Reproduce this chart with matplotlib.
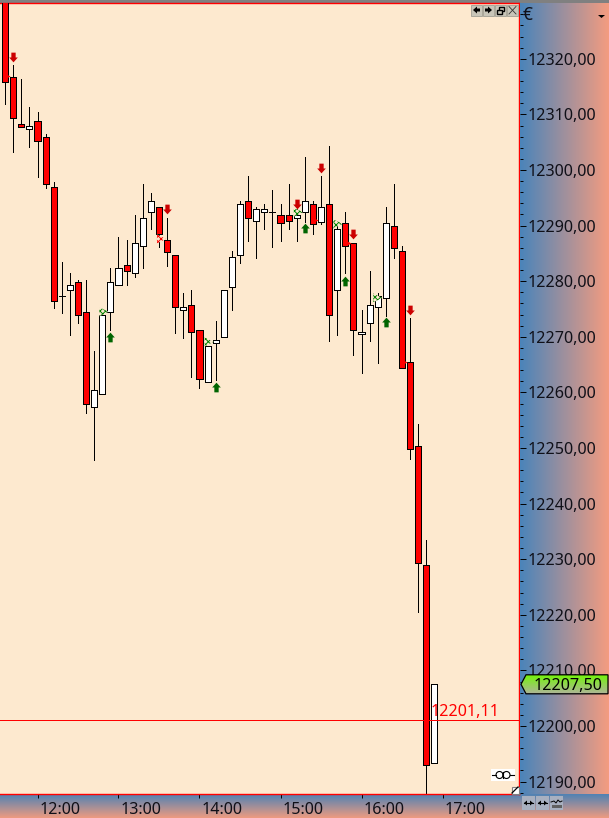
#!/usr/bin/env python3
"""Intraday candlestick chart, 6 minute bars, with the platform chrome around it."""

import numpy as np
import matplotlib

matplotlib.use("Agg")
import matplotlib.pyplot as plt
from matplotlib.patches import Circle, Polygon, Rectangle
from matplotlib.path import Path

# bars, oldest first
opens = [12332.0, 12316.8, 12308.3, 12307.3, 12308.8, 12305.9, 12296.9, 12277.3, 12278.4,
         12279.8, 12274.4, 12257.3, 12259.8, 12274.4, 12279.4, 12282.9, 12281.4, 12286.3,
         12292.4, 12293.3, 12287.4, 12284.8, 12274.9, 12275.8, 12271.3, 12261.8, 12268.8,
         12269.9, 12278.9, 12284.8, 12294.4, 12290.8, 12292.4, 12292.4, 12291.9, 12291.9,
         12291.3, 12292.4, 12293.8, 12290.7, 12293.8, 12278.4, 12290.4, 12286.8, 12270.5,
         12272.4, 12275.3, 12276.9, 12289.9, 12285.4, 12265.4, 12250.3, 12228.9, 12193.4]
closes = [12315.8, 12309.3, 12307.8, 12307.9, 12305.3, 12297.4, 12276.4, 12277.3, 12279.4,
          12273.9, 12257.9, 12260.4, 12273.9, 12279.8, 12282.3, 12281.8, 12286.8, 12291.3,
          12294.4, 12288.4, 12285.3, 12275.3, 12275.3, 12270.8, 12262.4, 12268.3, 12269.4,
          12278.4, 12284.3, 12293.8, 12291.3, 12292.9, 12292.9, 12292.4, 12290.4, 12290.8,
          12291.9, 12294.4, 12290.3, 12293.3, 12273.9, 12289.3, 12286.3, 12271.3, 12270.8,
          12275.8, 12277.3, 12290.4, 12285.9, 12264.3, 12249.9, 12229.4, 12192.9, 12207.5]
highs = [12334.0, 12318.9, 12316.4, 12311.3, 12310.4, 12306.4, 12297.8, 12283.4, 12281.4,
         12280.3, 12280.3, 12267.4, 12273.9, 12282.4, 12287.9, 12287.4, 12291.9, 12297.5,
         12295.9, 12293.3, 12291.4, 12284.8, 12277.8, 12278.4, 12271.3, 12268.3, 12272.8,
         12278.4, 12285.4, 12294.4, 12298.9, 12293.3, 12293.8, 12296.4, 12293.8, 12297.4,
         12292.9, 12302.3, 12294.4, 12298.9, 12304.3, 12290.5, 12292.4, 12286.8, 12274.9,
         12281.8, 12277.8, 12293.3, 12297.4, 12286.3, 12273.3, 12254.4, 12233.4, 12207.5]
lows = [12311.8, 12303.3, 12307.8, 12304.2, 12298.8, 12296.8, 12275.2, 12274.3, 12270.4,
        12272.4, 12256.3, 12247.9, 12259.8, 12271.2, 12279.4, 12279.4, 12280.8, 12282.3,
        12289.3, 12286.2, 12282.8, 12270.7, 12269.8, 12262.8, 12260.8, 12261.8, 12262.2,
        12269.9, 12274.9, 12283.3, 12287.3, 12284.2, 12289.3, 12286.2, 12287.3, 12289.3,
        12287.3, 12290.6, 12288.4, 12290.3, 12269.3, 12270.4, 12281.4, 12266.8, 12263.4,
        12269.3, 12265.3, 12273.8, 12284.2, 12264.3, 12248.0, 12220.5, 12187.0, 12193.4]

# signals: bar index and price
down_arrow_bars = [1, 20, 36, 39, 43, 50]
down_arrow_prices = [12320.3, 12292.9, 12293.8, 12300.3, 12288.4, 12274.9]
up_arrow_bars = [13, 26, 37, 42, 47]
up_arrow_prices = [12270.0, 12261.0, 12289.5, 12280.0, 12272.6]
green_flag_bars = [12.2, 25.2, 36.2, 41.1, 46.0]
green_flag_prices = [12274.5, 12269.1, 12292.4, 12290.3, 12277.0]
red_flag_bars = [19.3]
red_flag_prices = [12287.6]
red_nub_bars = [0.4, 35.0, 38.4, 42.4, 49.4]
red_nub_prices = [12316.9, 12291.5, 12291.0, 12286.9, 12265.4]

hour_bars = [4, 14, 24, 34, 44, 54]
hour_labels = ["12:00", "13:00", "14:00", "15:00", "16:00", "17:00"]
price_ticks = list(range(12190, 12330, 10))
price_minor_ticks = list(range(12188, 12330, 2))
line_price = 12201.11
last_price = 12207.50

BG = "#fde9cf"
W, H = 609, 818
PANE_RIGHT, PANE_TOP, PANE_BOTTOM = 519, 3, 794
ONE_PX = 0.7  # just under a pixel, so aliased lines stay one pixel wide
LABEL_SIZE = 11.6


def price_to_px(price):
    return 726 - (price - 12200) * 5.56


def px_to_price(y):
    return 12200 + (726 - y) / 5.56


def px_to_bar(x):
    return (x - 5.1) / 8.1


def gradient(ax, extent, start, end, horizontal=True, **kw):
    steps = np.linspace(0, 1, 128)[:, None]
    rgb = np.array(matplotlib.colors.to_rgb(start)) * (1 - steps) + np.array(matplotlib.colors.to_rgb(end)) * steps
    img = rgb[None, :, :] if horizontal else rgb[:, None, :]
    return ax.imshow(img, extent=extent, aspect="auto", interpolation="bilinear", **kw)


plt.rcParams["font.family"] = ["Noto Sans", "DejaVu Sans"]
plt.rcParams["hatch.linewidth"] = 0.7

fig = plt.figure(figsize=(W / 100, H / 100), dpi=100, facecolor="#808080")

# price pane
ax = fig.add_axes([0, (H - PANE_BOTTOM) / H, PANE_RIGHT / W, (PANE_BOTTOM - PANE_TOP) / H], facecolor=BG)
ax.set_xlim(px_to_bar(0), px_to_bar(PANE_RIGHT))
ax.set_ylim(px_to_price(PANE_BOTTOM), px_to_price(PANE_TOP))

bars = np.arange(len(opens))
is_up = np.array(closes) >= np.array(opens)
ax.vlines(bars, lows, highs, color="black", linewidth=ONE_PX, zorder=2, antialiased=False)
ax.bar(bars, np.abs(np.array(closes) - np.array(opens)), bottom=np.minimum(opens, closes), width=0.76,
       color=["white" if up else "#ff0000" for up in is_up], edgecolor="black", linewidth=ONE_PX,
       zorder=3, antialiased=False)

down_arrow = Path([(-2, 4.5), (2, 4.5), (2, 0), (4, 0), (0, -4.5), (-4, 0), (-2, 0), (-2, 4.5)], closed=True)
up_arrow = Path([(-2, -4.5), (2, -4.5), (2, 0), (4, 0), (0, 4.5), (-4, 0), (-2, 0), (-2, -4.5)], closed=True)
ax.plot(down_arrow_bars, down_arrow_prices, ls="none", marker=down_arrow, ms=7, mfc="#cc0000", mew=0, zorder=5)
ax.plot(up_arrow_bars, up_arrow_prices, ls="none", marker=up_arrow, ms=7, mfc="#006400", mew=0, zorder=5)
ax.scatter(green_flag_bars, green_flag_prices, marker=">", s=42, facecolor=BG, edgecolor="#008000",
           hatch="xxxxxx", linewidth=0, zorder=4)
ax.scatter(red_flag_bars, red_flag_prices, marker=">", s=42, facecolor=BG, edgecolor="#ff0000",
           hatch="xxxxxx", linewidth=0, zorder=4)
ax.scatter(red_nub_bars, red_nub_prices, marker=">", s=9, color="#ff0000", linewidth=0, zorder=4)

ax.axhline(line_price, color="#ff0000", linewidth=ONE_PX, zorder=6, antialiased=False)

for side in ("top", "right", "bottom"):
    ax.spines[side].set_color("#ff0000")
    ax.spines[side].set_linewidth(1.0)
ax.spines["left"].set_visible(False)
ax.set_yticks([])
ax.set_xticks(hour_bars)
ax.set_xticklabels(hour_labels, ha="left", fontsize=LABEL_SIZE, color="#101018")
ax.tick_params(axis="x", length=3, width=ONE_PX, color="black", pad=0)
label_shift = matplotlib.transforms.ScaledTranslation(1.2 / 72, -3.0 / 72, fig.dpi_scale_trans)
for label in ax.get_xticklabels():
    label.set_transform(label.get_transform() + label_shift)

# time strip along the bottom
ax_time = fig.add_axes([0, 0, 1, (H - PANE_BOTTOM) / H], zorder=-1)
ax_time.axis("off")
gradient(ax_time, (0, 1, 0, 1), "#4f82b4", "#ee9b80", horizontal=False)

# price scale on the right
ax_scale = fig.add_axes([(PANE_RIGHT + 1) / W, (H - PANE_BOTTOM) / H, (W - PANE_RIGHT - 1) / W,
                         (PANE_BOTTOM - PANE_TOP) / H])
gradient(ax_scale, (0, 1, px_to_price(PANE_BOTTOM), px_to_price(PANE_TOP)), "#4a84ba", "#f49c80")
ax_scale.set_xlim(0, 1)
ax_scale.set_ylim(px_to_price(PANE_BOTTOM), px_to_price(PANE_TOP))
for side in ax_scale.spines.values():
    side.set_visible(False)
ax_scale.set_xticks([])
ax_scale.set_yticks(price_ticks)
ax_scale.set_yticklabels([f"{p},00" for p in price_ticks], fontsize=LABEL_SIZE, color="#101018")
ax_scale.set_yticks(price_minor_ticks, minor=True)
ax_scale.tick_params(axis="y", which="major", direction="in", length=4, width=ONE_PX, color="black",
                     left=True, right=False, labelleft=False, labelright=True, pad=-59)
ax_scale.tick_params(axis="y", which="minor", direction="in", length=2.2, width=ONE_PX, color="black",
                     left=True, right=False)

# chrome drawn in pixels on top of everything
over = fig.add_axes([0, 0, 1, 1], zorder=10, facecolor="none")
over.set_xlim(0, W)
over.set_ylim(H, 0)
over.axis("off")

over.add_patch(Rectangle((520, 0), 89, 3, color="#808080", lw=0))
over.text(431, price_to_px(line_price) + 0.5, f"{line_price:.2f}".replace(".", ","), color="#ff0000",
          fontsize=LABEL_SIZE, ha="left", va="bottom")

# last price tag
tag_y = price_to_px(last_price)
tag = Polygon([(521, tag_y), (526, tag_y - 9.5), (608, tag_y - 9.5), (608, tag_y + 9.5), (526, tag_y + 9.5)],
              closed=True, facecolor="none", edgecolor="black", linewidth=0.9, zorder=3)
over.add_patch(tag)
tag_img = gradient(over, (521, 608, tag_y + 9.5, tag_y - 9.5), "#74f40c", "#b0b49a", horizontal=False, zorder=2)
tag_img.set_clip_path(tag)
over.set_xlim(0, W)
over.set_ylim(H, 0)
over.text(567.5, tag_y, f"{last_price:.2f}".replace(".", ","), color="black", fontsize=LABEL_SIZE, ha="center",
          va="center_baseline", zorder=4)

# window buttons
for x0 in (471, 483, 495, 507):
    over.add_patch(Rectangle((x0, 5), 11, 10.5, facecolor="#c8c5b8", edgecolor="#a09e92", linewidth=0.6))
over.add_patch(Polygon([(473, 10), (477, 6.5), (477, 8.5), (480, 8.5), (480, 11.5), (477, 11.5), (477, 13.5)], color="black", lw=0))
over.add_patch(Polygon([(492, 10), (488, 6.5), (488, 8.5), (485, 8.5), (485, 11.5), (488, 11.5), (488, 13.5)], color="black", lw=0))
over.add_patch(Rectangle((499, 7), 5, 4, facecolor="#c8c5b8", edgecolor="black", linewidth=1.0))
over.add_patch(Rectangle((497, 9.5), 5, 4, facecolor="#c8c5b8", edgecolor="black", linewidth=1.0))
over.plot([509, 516], [6.5, 14], color="#333333", lw=0.6)
over.plot([509, 516], [14, 6.5], color="#333333", lw=0.6)

# euro sign and scale menu
over.text(528, 14.5, "€", fontsize=12.5, color="#101018", ha="center", va="center")
over.add_patch(Polygon([(598, 15), (605, 15), (601.5, 18)], color="black", lw=0))

# connection icon
over.add_patch(Rectangle((491, 769), 24, 12, color="white", lw=0))
over.plot([492, 496], [775, 775], color="black", lw=0.8)
over.plot([510, 514], [775, 775], color="black", lw=0.8)
over.add_patch(Circle((499.5, 775), 3.5, facecolor="white", edgecolor="black", lw=0.8))
over.add_patch(Circle((506.5, 775), 3.5, facecolor="white", edgecolor="black", lw=0.8))
over.plot([503, 503], [772, 778], color="black", lw=0.8)

# resize corner
over.add_patch(Rectangle((511.5, 786.5), 7, 7, facecolor="white", edgecolor="#808080", lw=0.8))
over.plot([512, 518], [793, 787], color="black", lw=0.9)

# scale buttons
for x0 in (522, 536, 550):
    over.add_patch(Rectangle((x0, 796), 13, 14, facecolor="#a8b0c0", edgecolor="none"))
for x0, x1 in ((524, 533), (538, 547)):
    over.plot([x0, x1], [803, 803], color="black", lw=0.8)
    over.add_patch(Polygon([(x0, 803), (x0 + 3, 800.5), (x0 + 3, 805.5)], color="black", lw=0))
    over.add_patch(Polygon([(x1, 803), (x1 - 3, 800.5), (x1 - 3, 805.5)], color="black", lw=0))
over.plot([551, 554, 556, 558, 560, 562], [802, 801, 803, 800, 802, 801], color="black", lw=0.7)
over.add_patch(Rectangle((552, 804.5), 10, 3, color="#606060", lw=0))

fig.savefig("out.png", dpi=100, facecolor=fig.get_facecolor())
